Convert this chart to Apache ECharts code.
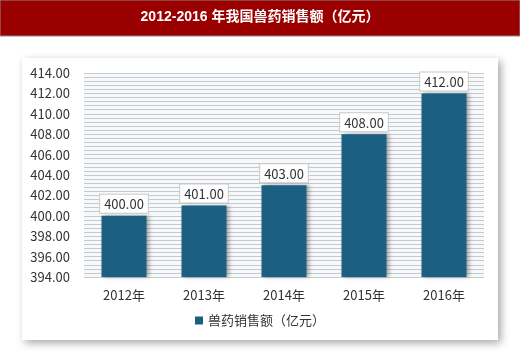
<!DOCTYPE html>
<html><head><meta charset="utf-8">
<script src="https://cdn.jsdelivr.net/npm/echarts@6/dist/echarts.min.js"></script>
<style>html,body{margin:0;padding:0;background:#fff}#c{width:520px;height:353px}</style>
</head><body><div id="c"></div>
<script>
var categories = ['2012年','2013年','2014年','2015年','2016年'];
var values = [400, 401, 403, 408, 412];
var seriesName = '兽药销售额（亿元）';
var titleText = '2012-2016 年我国兽药销售额（亿元）';
var yMin = 394, yMax = 414, yStep = 2;

var chart = echarts.init(document.getElementById('c'), null, {renderer:'canvas'});
var ff = '"Noto Sans CJK SC","Noto Sans",sans-serif';
var tf = '"Liberation Sans","Noto Sans CJK SC",sans-serif';
chart.setOption({
  animation:false,
  backgroundColor:'#ffffff',
  graphic:[
    {type:'rect', shape:{x:0,y:0,width:520,height:36}, style:{fill:'#9b0000', stroke:'#8a8a8a', lineWidth:1}, z:-10},
    {type:'rect', shape:{x:22,y:58,width:476,height:282}, style:{fill:'#ffffff', shadowBlur:8, shadowOffsetX:3, shadowOffsetY:3, shadowColor:'rgba(0,0,0,0.35)'}, z:-10},
    {type:'rect', shape:{x:84,y:73,width:400,height:204}, style:{fill:'#f7f8fa'}, z:-9},
    {type:'text', left:'center', top:10, style:{text:titleText, fill:'#ffffff', font:'bold 14px '+tf}}
  ],
  grid:{left:84, right:36, top:73, bottom:76},
  legend:{
    bottom:21, left:'center', itemWidth:8, itemHeight:8, itemGap:4,
    icon:'rect',
    textStyle:{fontFamily:ff, fontSize:13, color:'#333'},
    data:[seriesName]
  },
  xAxis:{
    type:'category', data:categories,
    axisLine:{show:false}, axisTick:{show:false},
    axisLabel:{fontFamily:ff, fontSize:13, color:'#333', margin:12}
  },
  yAxis:{
    type:'value', min:yMin, max:yMax, interval:yStep,
    axisLine:{show:false}, axisTick:{show:false},
    axisLabel:{fontFamily:ff, fontSize:13, color:'#333', margin:14, formatter:function(v){return v.toFixed(2);}},
    splitLine:{lineStyle:{color:'#c3cad3', width:1}},
    minorTick:{show:false, splitNumber:5},
    minorSplitLine:{show:true, lineStyle:{color:'#c3cad3', width:1}}
  },
  series:[{
    name:seriesName, type:'bar', data:values, barWidth:45,
    itemStyle:{color:'#1b6083', shadowBlur:4, shadowOffsetX:2, shadowOffsetY:0, shadowColor:'rgba(0,0,0,0.35)'},
    label:{
      show:true, position:'top', distance:3,
      formatter:function(p){return p.value.toFixed(2);},
      fontFamily:ff, fontSize:13, color:'#333',
      backgroundColor:'#ffffff', borderColor:'#c8c8c8', borderWidth:1,
      padding:[3,4,2,4]
    }
  }]
});
</script></body></html>
